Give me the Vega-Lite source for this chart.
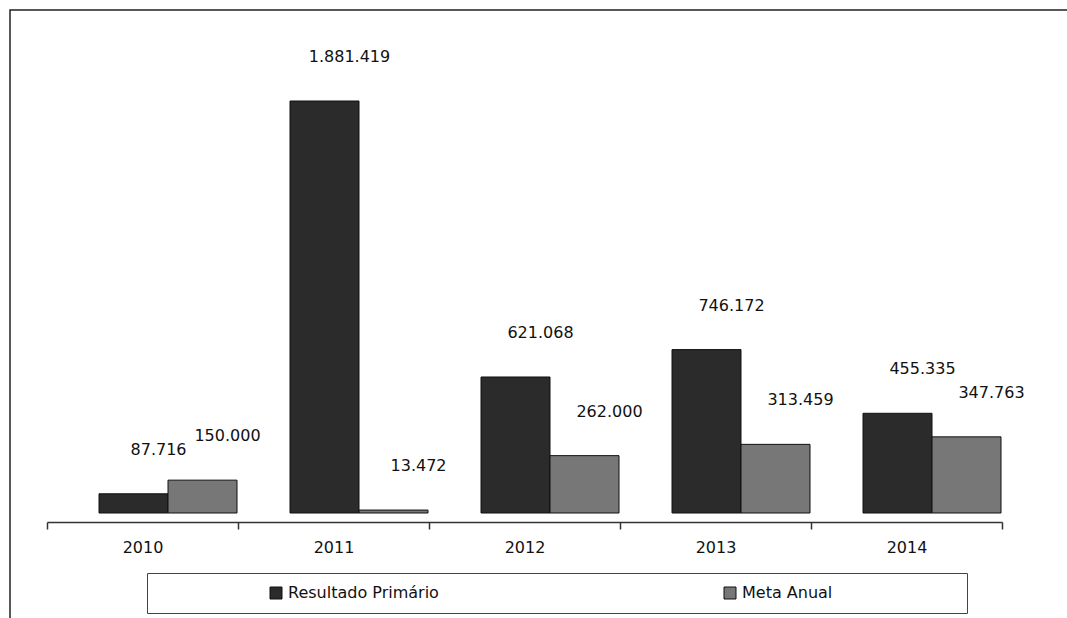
{
  "$schema": "https://vega.github.io/schema/vega-lite/v6.json",
  "autosize": "none",
  "width": 1057,
  "height": 608,
  "padding": {"left": 10, "top": 10, "right": 0, "bottom": 0},
  "background": "white",
  "config": {
    "locale": {"number": {"decimal": ",", "thousands": ".", "grouping": [3], "currency": ["R$", ""]}},
    "font": "DejaVu Sans",
    "view": {"stroke": "#222", "strokeWidth": 1.5, "strokeDash": [1057, 1665, 608, 100]}
  },
  "data": {
    "values": [
      {"ano": "2010", "serie": "Resultado Primário", "valor": 87716},
      {"ano": "2010", "serie": "Meta Anual", "valor": 150000},
      {"ano": "2011", "serie": "Resultado Primário", "valor": 1881419},
      {"ano": "2011", "serie": "Meta Anual", "valor": 13472},
      {"ano": "2012", "serie": "Resultado Primário", "valor": 621068},
      {"ano": "2012", "serie": "Meta Anual", "valor": 262000},
      {"ano": "2013", "serie": "Resultado Primário", "valor": 746172},
      {"ano": "2013", "serie": "Meta Anual", "valor": 313459},
      {"ano": "2014", "serie": "Resultado Primário", "valor": 455335},
      {"ano": "2014", "serie": "Meta Anual", "valor": 347763}
    ]
  },
  "encoding": {
    "x": {
      "field": "ano", "type": "nominal",
      "scale": {"range": [37, 992], "paddingInner": 0, "paddingOuter": 0},
      "axis": {
        "title": null, "labelAngle": 0, "offset": -96, "tickBand": "extent",
        "domainColor": "#333", "domainWidth": 1.5, "tickColor": "#333", "tickSize": 7, "tickWidth": 1.5,
        "labelFont": "DejaVu Sans", "labelFontSize": 16, "labelColor": "#111", "labelPadding": 10
      }
    },
    "xOffset": {
      "field": "serie", "type": "nominal",
      "scale": {"domain": ["Resultado Primário", "Meta Anual"], "range": [52, 190], "paddingInner": 0, "paddingOuter": 0}
    },
    "y": {
      "field": "valor", "type": "quantitative",
      "scale": {"domain": [0, 2297000], "range": [503, 0], "nice": false, "zero": true},
      "axis": null
    }
  },
  "layer": [
    {
      "mark": {"type": "bar", "stroke": "#111", "strokeWidth": 1},
      "encoding": {
        "color": {
          "field": "serie", "type": "nominal",
          "scale": {"domain": ["Resultado Primário", "Meta Anual"], "range": ["#2b2b2b", "#777777"]},
          "legend": {
            "title": "\u00a0", "titleOrient": "right", "titlePadding": 123, "titleFontSize": 16,
            "orient": "none", "legendX": 137, "legendY": 563,
            "direction": "horizontal", "columns": 2, "padding": 12,
            "strokeColor": "#444", "fillColor": "white",
            "symbolType": "square", "symbolSize": 144, "symbolStrokeColor": "#111", "symbolStrokeWidth": 1,
            "symbolOffset": 109, "labelOffset": 4, "columnPadding": 174,
            "labelFont": "DejaVu Sans", "labelFontSize": 16, "labelColor": "#111", "labelLimit": 400
          }
        }
      }
    },
    {
      "mark": {"type": "text", "baseline": "bottom", "dy": -36, "dx": 25, "fontSize": 16, "font": "DejaVu Sans", "color": "#111"},
      "encoding": {
        "text": {"field": "valor", "type": "quantitative", "format": ",d"}
      }
    }
  ]
}
